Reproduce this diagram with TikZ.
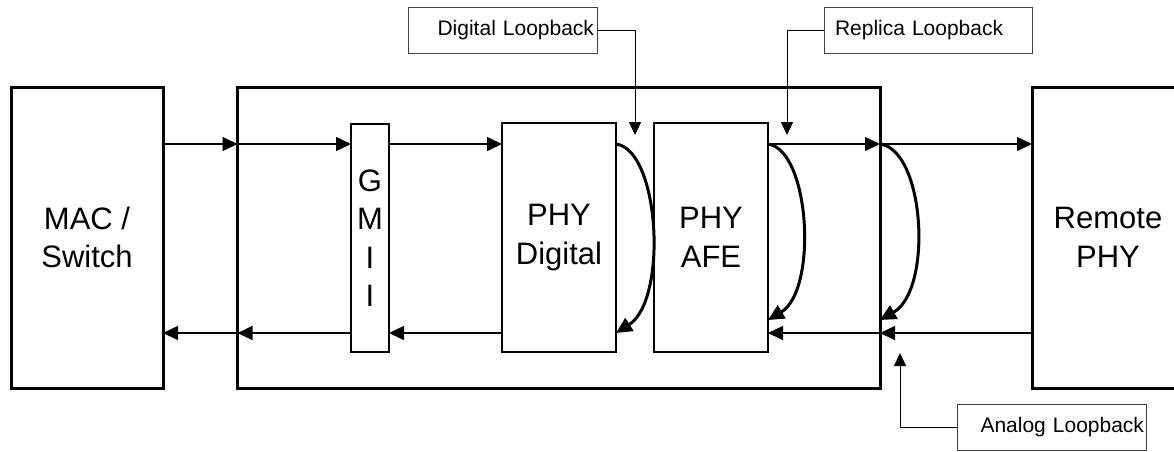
\documentclass[tikz,border=0pt]{standalone}
\usepackage{fontspec}
\setmainfont{Liberation Sans}
\usetikzlibrary{arrows.meta}

\begin{document}
\begin{tikzpicture}[x=1pt,y=-1pt,
    bigbox/.style={draw,line width=3pt,outer sep=0pt,inner sep=0pt,align=center,font=\fontsize{31}{38.5}\selectfont},
    blockbox/.style={draw,line width=1.5pt,outer sep=0pt,inner sep=0pt,align=center,font=\fontsize{31}{38.5}\selectfont},
    tagbox/.style={draw=black!75,line width=0.9pt,minimum height=46pt,inner ysep=0pt,font=\fontsize{21}{25}\selectfont},
    flow/.style={line width=1.5pt,-{Triangle[length=15pt,width=14pt]}},
    loop/.style={line width=3pt,-{Triangle[length=16pt,width=15pt]}},
    pointer/.style={line width=0.9pt,-{Triangle[length=13pt,width=12pt]}}]
    \useasboundingbox (0,0) rectangle (1174,451);

    % Define the main blocks
    \node[bigbox,minimum width=152pt,minimum height=301pt] (mac) at (87,237.5) {MAC /\\Switch};
    \node[bigbox,minimum width=642.5pt,minimum height=301pt] (board) at (558.75,237.5) {};
    \node[bigbox,minimum width=152pt,minimum height=301pt] (remote) at (1108,237.5) {Remote\\PHY};
    \node[blockbox,minimum width=38pt,minimum height=228pt] (gmii) at (370,238) {G\\M\\I\\I};
    \node[blockbox,minimum width=114pt,minimum height=229pt] (phyd) at (559,237.5) {PHY\\Digital};
    \node[blockbox,minimum width=114pt,minimum height=229pt] (afe) at (711,237.5) {PHY\\AFE};

    % Define the levels of the data paths
    \coordinate (top) at (0,144);
    \coordinate (bot) at (0,333);
    \coordinate (ret) at (0,320);

    % Draw the transmit path
    \draw[flow] (mac.east |- top) -- (board.west |- top);
    \draw[flow] (board.west |- top) -- (gmii.west |- top);
    \draw[flow] (gmii.east |- top) -- (phyd.west |- top);
    \draw[flow] (afe.east |- top) -- (board.east |- top);
    \draw[flow] (board.east |- top) -- (remote.west |- top);

    % Draw the receive path
    \draw[flow] (remote.west |- bot) -- (board.east |- bot);
    \draw[flow] (board.east |- bot) -- (afe.east |- bot);
    \draw[flow] (phyd.west |- bot) -- (gmii.east |- bot);
    \draw[flow] (gmii.west |- bot) -- (board.west |- bot);
    \draw[flow] (board.west |- bot) -- (mac.east |- bot);

    % Draw the loopbacks
    \draw[loop] (phyd.east |- top) .. controls (660,150) and (668,300) .. (phyd.east |- bot);
    \draw[loop] (afe.east |- top) .. controls (810,150) and (818,290) .. (afe.east |- ret);
    \draw[loop] (board.east |- top) .. controls (925,150) and (933,290) .. (board.east |- ret);

    % Draw the labels
    \node[tagbox,text width=183pt,inner xsep=3pt,align=right] (dlb) at (502.5,30) {Digital Loopback};
    \node[tagbox,text width=186pt,inner xsep=11pt,align=left] (rlb) at (928,30.5) {Replica Loopback};
    \node[tagbox,text width=185pt,inner xsep=2pt,align=right] (alb) at (1051.5,427) {Analog Loopback};

    \coordinate (dtip) at (635,135);
    \coordinate (rtip) at (787,135);
    \coordinate (atip) at (900,353);
    \draw[pointer] (dlb.east) -| (dtip);
    \draw[pointer] (rlb.west) -| (rtip);
    \draw[pointer] (alb.west) -| (atip);
\end{tikzpicture}
\end{document}
